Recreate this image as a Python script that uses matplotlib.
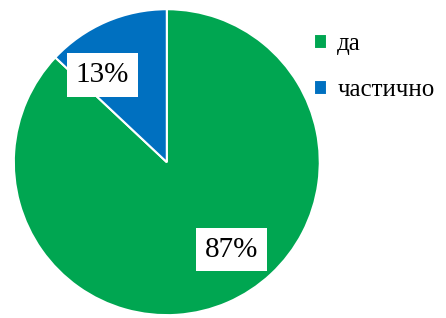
import numpy as np
import matplotlib.pyplot as plt

# данные
categories = ['да', 'частично']
values = [87, 13]
colors = ['#00A651', '#0070C0']

plt.rcParams['font.family'] = ['Liberation Serif', 'DejaVu Serif']

fig = plt.figure(figsize=(4.46, 3.18), dpi=100)
ax = fig.add_axes([0.031, 0.009, 0.686, 0.962])

wedges, texts, autotexts = ax.pie(
    values, colors=colors, startangle=90, counterclock=False,
    autopct='%1.0f%%', pctdistance=0.71,
    wedgeprops=dict(edgecolor='white', linewidth=1.5),
    textprops=dict(fontsize=21, color='black'),
)

# Excel сдвигает подписи немного против часовой стрелки
shift = np.deg2rad(13)
for t in autotexts:
    x, y = t.get_position()
    t.set_position((x * np.cos(shift) - y * np.sin(shift),
                    x * np.sin(shift) + y * np.cos(shift)))
    t.set_bbox(dict(facecolor='white', edgecolor='none', boxstyle='square,pad=0.3'))

ax.set_xlim(-1, 1)
ax.set_ylim(-1, 1)
ax.set_aspect('equal')

fig.legend(wedges, categories, loc='upper left', bbox_to_anchor=(0.703, 0.895),
           frameon=False, fontsize=18, handlelength=0.55, handleheight=0.55,
           handletextpad=0.4, labelspacing=0.95, borderaxespad=0, borderpad=0)

fig.savefig('out.png', dpi=100)
